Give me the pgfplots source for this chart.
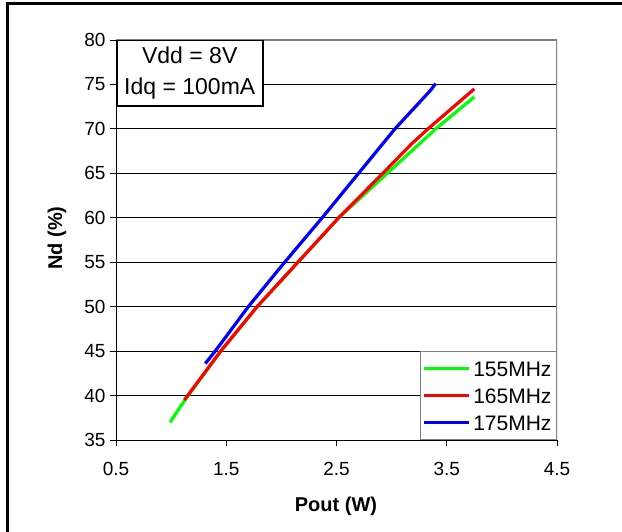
\documentclass[border=0pt]{standalone}
\usepackage{pgfplots}
\pgfplotsset{compat=1.18}
\usepackage{fontspec}
\setmainfont{Liberation Sans}
\definecolor{cgreen}{RGB}{0,255,0}
\definecolor{cred}{RGB}{255,0,0}
\definecolor{cblue}{RGB}{0,0,255}
\definecolor{bordergray}{RGB}{128,128,128}
\begin{document}
\begin{tikzpicture}
\useasboundingbox (0pt,0pt) rectangle (622pt,-532pt);
\draw[line width=2.5pt] (7.5pt,-532pt) -- (7.5pt,-3.5pt) -- (622pt,-3.5pt);
\begin{axis}[
  at={(116pt,-440pt)}, anchor=south west,
  scale only axis, width=441pt, height=400pt,
  xmin=0.5, xmax=4.5, ymin=35, ymax=80,
  xtick={0.5,1.5,2.5,3.5,4.5},
  ytick={35,40,...,80},
  xticklabels={0.5,1.5,2.5,3.5,4.5},
  tick align=outside, major tick length=6pt,
  xtick pos=bottom, ytick pos=left,
  tick style={black, line width=0.8pt},
  ymajorgrids, grid style={black, line width=0.8pt},
  axis line style={draw=none},
  /pgf/number format/assume math mode=true,
  ticklabel style={font=\fontsize{19}{21}\selectfont},
  xticklabel shift=13pt,
  yticklabel shift=1pt,
  legend cell align=left,
  legend style={at={(rel axis cs:1,0)}, anchor=south east,
    draw=bordergray, line width=1pt, fill=white,
    font=\fontsize{21}{21}\selectfont,
    inner xsep=2pt, inner ysep=3.5pt,
    nodes={text height=15pt, text depth=0pt, inner ysep=6pt, inner xsep=3pt}},
  legend image code/.code={\draw[#1, line width=3pt] (0pt,0pt) -- (45pt,0pt);},
]
\addplot[cgreen, line width=3.2pt, line join=round] coordinates {
(0.99,37.0) (1.12,39.4) (1.45,45) (1.78,50) (2.15,55) (2.52,60) (2.96,65) (3.40,70) (3.75,73.6)};
\addlegendentry{155MHz}
\addplot[cred, line width=3.2pt, line join=round] coordinates {
(1.12,39.5) (1.45,45) (1.78,50) (2.15,55) (2.52,60) (2.92,65) (3.18,68.3) (3.33,70) (3.75,74.5)};
\addlegendentry{165MHz}
\addplot[cblue, line width=3.2pt, line join=round] coordinates {
(1.31,43.6) (1.40,45) (1.70,50) (2.03,55) (2.37,60) (2.70,65) (3.03,70) (3.35,74.3) (3.40,75.1)};
\addlegendentry{175MHz}
\draw[bordergray, line width=1.5pt] (rel axis cs:0,1) -- (rel axis cs:1,1) -- (rel axis cs:1,0);
\draw[black, line width=1pt] (rel axis cs:1,0) -- (rel axis cs:0,0) -- (rel axis cs:0,1);
\node[draw=black, line width=1.5pt, fill=white, anchor=north west, align=center,
  minimum width=146pt, minimum height=65pt, inner sep=0pt,
  font=\fontsize{23}{31}\selectfont] at (rel axis cs:0,1) {Vdd = 8V\\Idq = 100mA};
\end{axis}
\node[font=\bfseries\fontsize{20}{21}\selectfont] at (336pt,-506pt) {Pout (W)};
\node[font=\bfseries\fontsize{20}{21}\selectfont, rotate=90] at (57pt,-238pt) {Nd (\%)};
\end{tikzpicture}
\end{document}
